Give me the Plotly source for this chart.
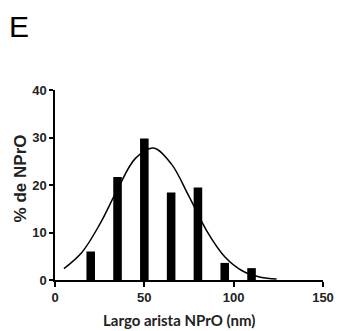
import plotly.graph_objects as go

# Histogram bars (bin centers, % of NPrO)
bin_centers = [20, 35, 50, 65, 80, 95, 110]
percent = [6.0, 21.7, 29.8, 18.4, 19.5, 3.6, 2.5]

# Fitted Gaussian curve
curve_x = [5, 15, 25, 35, 45, 55, 65, 75, 85, 95, 105, 115, 124]
curve_y = [2.4, 5.8, 11.7, 19.1, 25.6, 27.8, 24.5, 17.6, 10.3, 4.9, 1.9, 0.6, 0.2]

x_ticks = [0, 50, 100, 150]
y_ticks = [0, 10, 20, 30, 40]

L, R, T, B = 55, 20, 90, 51
W, H = 346, 331
pw, ph = W - L - R, H - T - B

fig = go.Figure()
fig.add_trace(go.Bar(x=bin_centers, y=percent, width=4.8,
                     marker=dict(color="black", line=dict(width=0)),
                     showlegend=False))
fig.add_trace(go.Scatter(x=curve_x, y=curve_y, mode="lines",
                         line=dict(color="black", width=1.5, shape="spline"),
                         showlegend=False))

tf = dict(family="Liberation Sans, Arial", size=13, color="#222", weight="bold")
fig.update_layout(
    width=W, height=H,
    margin=dict(l=L, r=R, t=T, b=B),
    paper_bgcolor="white", plot_bgcolor="white",
    xaxis=dict(range=[0, 150], tickvals=x_ticks, showgrid=False, zeroline=False,
               showline=True, linecolor="black", linewidth=1.5,
               ticks="outside", ticklen=5, tickwidth=1.5, tickcolor="black",
               tickfont=tf, fixedrange=True),
    yaxis=dict(range=[0, 40], tickvals=y_ticks, showgrid=False, zeroline=False,
               showline=True, linecolor="black", linewidth=1.5,
               ticks="outside", ticklen=4, tickwidth=1.5, tickcolor="black",
               tickfont=tf, fixedrange=True),
    annotations=[
        dict(text="E", x=(19 - L) / pw, y=1 + (T - 26) / ph, xref="paper", yref="paper",
             showarrow=False, xanchor="center", yanchor="middle",
             font=dict(family="Liberation Sans, Arial", size=30, color="black")),
        dict(text="<b>% de NPrO</b>", x=(20 - L) / pw, y=1 - (178 - T) / ph,
             xref="paper", yref="paper",
             showarrow=False, textangle=-90, xanchor="center", yanchor="middle",
             font=dict(family="Liberation Sans, Arial", size=17, color="#222")),
        dict(text="<b>Largo arista NPrO (nm)</b>", x=(180 - L) / pw, y=-(320 - (H - B)) / ph,
             xref="paper", yref="paper",
             showarrow=False, xanchor="center", yanchor="middle",
             font=dict(family="Lato, Open Sans", size=15, color="#222")),
    ],
)

fig.write_html("out.html")
